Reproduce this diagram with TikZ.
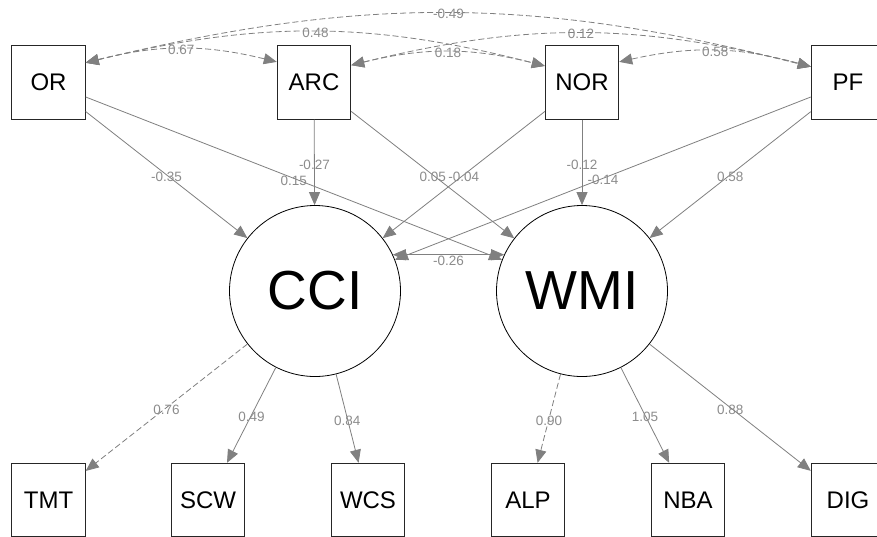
\documentclass[tikz,border=0pt]{standalone}
\usepackage{fontspec}
\setmainfont{Liberation Sans}
\usetikzlibrary{arrows.meta}
\begin{document}
\begin{tikzpicture}[x=1pt,y=1pt,
  obs/.style={draw=black!85, line width=0.9pt, minimum width=73.5pt, minimum height=73.5pt, inner sep=0pt, font=\fontsize{24}{28}\selectfont},
  lat/.style={circle, draw=black, line width=0.8pt, minimum size=171pt, inner sep=0pt, font=\fontsize{55}{60}\selectfont},
  con/.style={draw=gray, line width=0.8pt},
  reg/.style={con, -{Triangle[length=13pt,width=11pt]}},
  cov/.style={con, {Triangle[length=13pt,width=11pt]}-{Triangle[length=13pt,width=11pt]}},
  dsh/.style={dash pattern=on 6pt off 3pt},
  lab/.style={text=black!45, font=\fontsize{13.5}{15}\selectfont, inner sep=1pt, yshift=-2pt},
]
\useasboundingbox (0,0) rectangle (877,-536);
\clip (0,0) rectangle (877,-536);
\fill[white] (0,0) rectangle (877,-536);

% exogenous observed
\node[obs] (OR)  at (48.5,-82.5) {OR};
\node[obs] (ARC) at (314,-82.5) {ARC};
\node[obs] (NOR) at (582,-82.5) {NOR};
\node[obs] (PF)  at (848,-82.5) {PF};
% latent
\node[lat] (CCI) at (315,-291) {CCI};
\node[lat] (WMI) at (582,-291) {WMI};
% indicators
\node[obs] (TMT) at (48.5,-500) {TMT};
\node[obs] (SCW) at (208,-500) {SCW};
\node[obs] (WCS) at (368,-500) {WCS};
\node[obs] (ALP) at (528,-500) {ALP};
\node[obs] (NBA) at (688,-500) {NBA};
\node[obs] (DIG) at (848,-500) {DIG};

% covariances among predictors
\draw[cov,dsh] (OR.28) to[bend left=14] node[lab,yshift=1pt]{0.67} (ARC.151);
\draw[cov,dsh] (OR.28) to[bend left=14] node[lab,yshift=1pt]{0.48} (NOR.156);
\draw[cov,dsh] (OR.28) to[bend left=14] node[lab,yshift=1pt]{-0.49} (PF.157);
\draw[cov,dsh] (ARC.25) to[bend left=14] node[lab,yshift=1pt]{0.18} (NOR.156);
\draw[cov,dsh] (ARC.25) to[bend left=14] node[lab,yshift=1pt]{0.12} (PF.157);
\draw[cov,dsh] (NOR.29) to[bend left=14] node[lab,yshift=1pt]{0.58} (PF.157);

% regressions
\draw[reg] (OR)  -- node[lab]{-0.35} (CCI);
\draw[reg] (OR)  -- node[lab]{0.15} (WMI);
\draw[reg] (ARC) -- node[lab]{-0.27} (CCI);
\draw[reg] (ARC) -- node[lab]{0.05} (WMI);
\draw[reg] (NOR) -- node[lab]{-0.04} (CCI);
\draw[reg] (NOR) -- node[lab]{-0.12} (WMI);
\draw[reg] (PF)  -- node[lab]{-0.14} (CCI);
\draw[reg] (PF)  -- node[lab]{0.58} (WMI);

% latent covariance
\draw[cov] (CCI.25) -- node[lab,yshift=-4pt]{-0.26} (WMI.155);

% loadings
\draw[reg,dsh] (CCI) -- node[lab]{0.76} (TMT);
\draw[reg] (CCI) -- node[lab]{0.49} (SCW);
\draw[reg] (CCI) -- node[lab]{0.84} (WCS);
\draw[reg,dsh] (WMI) -- node[lab]{0.90} (ALP);
\draw[reg] (WMI) -- node[lab]{1.05} (NBA);
\draw[reg] (WMI) -- node[lab]{0.88} (DIG);
\end{tikzpicture}
\end{document}
